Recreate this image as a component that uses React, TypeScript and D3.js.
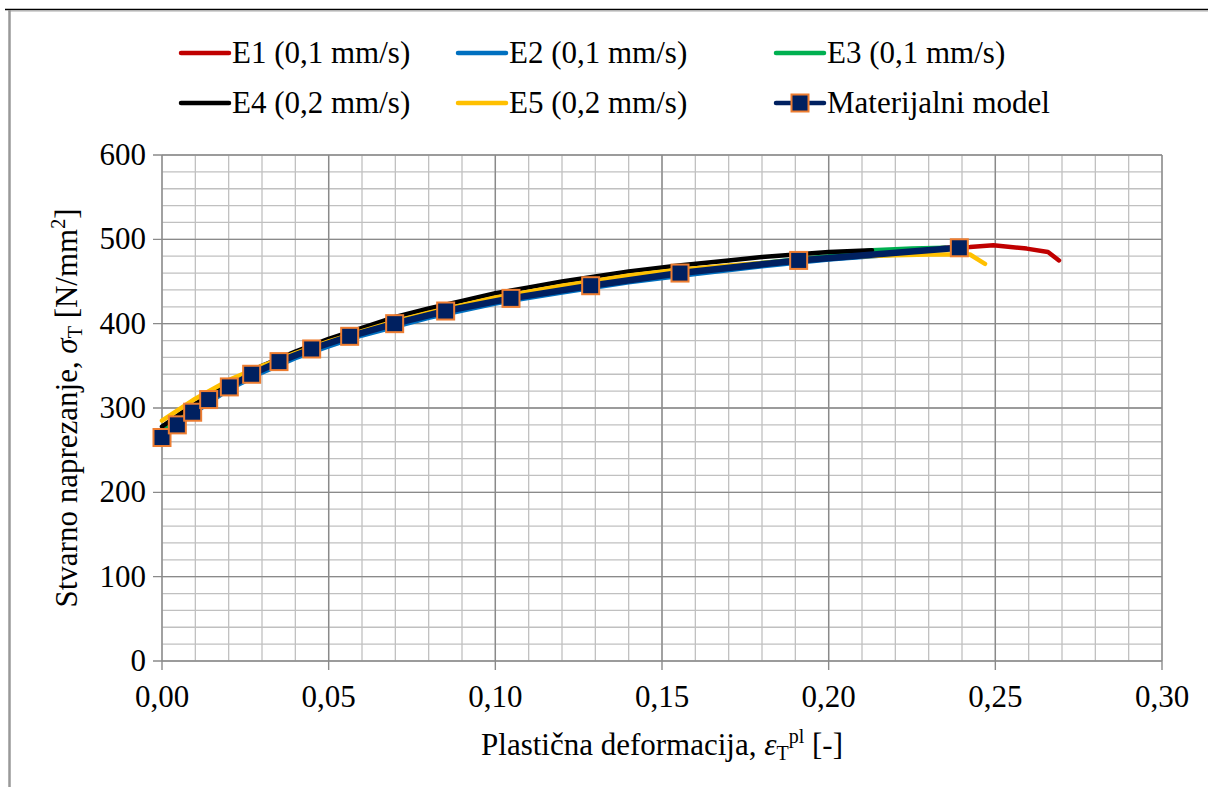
import React from "react";
import * as d3 from "d3";

// ---- data ----
const modelX = [0, 0.0046, 0.0092, 0.014, 0.0202, 0.0269, 0.0351, 0.0449, 0.0563, 0.0698, 0.0851, 0.1047, 0.1286, 0.1554, 0.191, 0.2392];
const modelY = [265, 280, 295, 310, 325, 340, 355, 370, 385, 400, 415, 430, 445, 460, 475, 490];

const e1X = [0, 0.01, 0.02, 0.03, 0.04, 0.05, 0.06, 0.08, 0.10, 0.12, 0.14, 0.16, 0.18, 0.20, 0.22, 0.235, 0.2424, 0.2494, 0.2594, 0.2658, 0.2691];
const e1Y = [268, 298, 324, 344, 361, 375, 388, 408, 425, 439, 450, 461, 470, 478, 485, 490, 491, 493, 489, 485, 475];

const e2X = [0, 0.01, 0.02, 0.03, 0.04, 0.05, 0.06, 0.08, 0.10, 0.12, 0.14, 0.16, 0.18, 0.20, 0.22, 0.228];
const e2Y = [266, 295, 322, 342, 359, 373, 386, 407, 424, 437, 449, 459, 468, 476, 482, 484];

const e3X = [0, 0.01, 0.02, 0.03, 0.04, 0.05, 0.06, 0.08, 0.10, 0.12, 0.14, 0.16, 0.18, 0.20, 0.213, 0.225, 0.235];
const e3Y = [272, 299, 327, 347, 364, 378, 390, 411, 428, 441, 453, 463, 472, 480, 487, 489, 490];

const e4X = [0, 0.005, 0.01, 0.02, 0.03, 0.04, 0.05, 0.06, 0.07, 0.08, 0.09, 0.10, 0.11, 0.12, 0.13, 0.14, 0.155, 0.17, 0.18, 0.19, 0.20, 0.213];
const e4Y = [278, 292, 305, 330, 350, 367, 382, 395, 408, 418, 427, 436, 443, 450, 456, 462, 469, 475, 479, 482, 485, 487];

const e5X = [0, 0.005, 0.01, 0.02, 0.03, 0.04, 0.05, 0.06, 0.07, 0.08, 0.09, 0.10, 0.11, 0.12, 0.13, 0.14, 0.155, 0.17, 0.18, 0.19, 0.20, 0.21, 0.22, 0.23, 0.2364, 0.2424, 0.2469];
const e5Y = [285, 298, 311, 333, 350, 365, 379, 391, 403, 413, 422, 431, 438, 445, 451, 457, 464, 469, 472, 475, 478, 480, 481, 482, 482, 482, 471];

const seriesNames = ["E1 (0,1 mm/s)", "E2 (0,1 mm/s)", "E3 (0,1 mm/s)", "E4 (0,2 mm/s)", "E5 (0,2 mm/s)", "Materijalni model"];
const seriesColors = ["#C00000", "#0070C0", "#00B050", "#000000", "#FFC000", "#002060"];

const xTicks = [0, 0.05, 0.1, 0.15, 0.2, 0.25, 0.3];
const yTicks = [0, 100, 200, 300, 400, 500, 600];

const FONT = "Liberation Serif";

export default function App() {
  const W = 1208, H = 787;
  const x = d3.scaleLinear().domain([0, 0.3]).range([162, 1162]);
  const y = d3.scaleLinear().domain([0, 600]).range([661, 155]);

  const minorX = d3.range(0, 0.3001, 0.01);
  const minorY = d3.range(0, 601, 20);

  const line = d3.line<[number, number]>().x(d => x(d[0])).y(d => y(d[1]));
  const zip = (a: number[], b: number[]) => a.map((v, i) => [v, b[i]] as [number, number]);
  const exps = [zip(e1X, e1Y), zip(e2X, e2Y), zip(e3X, e3Y), zip(e4X, e4Y), zip(e5X, e5Y)];
  const model = zip(modelX, modelY);

  const fmt = (v: number) => d3.format(".2f")(v).replace(".", ",");
  const fs = 31;
  const sub = Math.round(fs * 0.66);

  const legendCols = [181, 458, 776];
  const legendRows = [53, 103];

  return (
    <div style={{ position: "absolute", left: 0, top: 0 }}>
      <svg width={W} height={H} style={{ display: "block", background: "#fff" }}>
        {/* frame */}
        <line x1={5} x2={W} y1={9.5} y2={9.5} stroke="#000" strokeWidth={1.5} />
        <line x1={8} x2={W} y1={11} y2={11} stroke="#aaa" strokeWidth={1} />
        <line x1={9.5} x2={9.5} y1={10} y2={H} stroke="#999" strokeWidth={2.5} />

        {/* minor grid */}
        {minorX.map((v, i) => (
          <line key={"mx" + i} x1={x(v)} x2={x(v)} y1={y(0)} y2={y(600)} stroke="#C0C0C0" strokeWidth={1.3} />
        ))}
        {minorY.map((v, i) => (
          <line key={"my" + i} x1={x(0)} x2={x(0.3)} y1={y(v)} y2={y(v)} stroke="#C0C0C0" strokeWidth={1.3} />
        ))}
        {/* major grid */}
        {xTicks.map((v, i) => (
          <line key={"gx" + i} x1={x(v)} x2={x(v)} y1={y(0) + 9} y2={y(600)} stroke="#8A8A8A" strokeWidth={1.4} />
        ))}
        {yTicks.map((v, i) => (
          <line key={"gy" + i} x1={x(0) - 9} x2={x(0.3)} y1={y(v)} y2={y(v)} stroke="#8A8A8A" strokeWidth={1.4} />
        ))}

        {/* tick labels */}
        {xTicks.map((v, i) => (
          <text key={"tx" + i} x={x(v)} y={y(0) + 46} textAnchor="middle" fontFamily={FONT} fontSize={fs} fill="#000">
            {fmt(v)}
          </text>
        ))}
        {yTicks.map((v, i) => (
          <text key={"ty" + i} x={x(0) - 16} y={y(v) + 10} textAnchor="end" fontFamily={FONT} fontSize={fs} fill="#000">
            {v}
          </text>
        ))}

        {/* axis titles */}
        <text x={662} y={755} textAnchor="middle" fontFamily={FONT} fontSize={fs} fill="#000">
          <tspan>Plastična deformacija, </tspan>
          <tspan fontStyle="italic">ε</tspan>
          <tspan fontSize={sub} dy={5}>T</tspan>
          <tspan fontSize={sub} dy={-17}>pl</tspan>
          <tspan dy={12}> [-]</tspan>
        </text>
        <text transform={`translate(77,408) rotate(-90)`} textAnchor="middle" fontFamily={FONT} fontSize={fs} fill="#000">
          <tspan>Stvarno naprezanje, </tspan>
          <tspan fontStyle="italic">σ</tspan>
          <tspan fontSize={sub} dy={5}>T</tspan>
          <tspan dy={-5}> [N/mm</tspan>
          <tspan fontSize={sub} dy={-12}>2</tspan>
          <tspan dy={12}>]</tspan>
        </text>

        {/* series */}
        {exps.map((d, i) => (
          <path key={"s" + i} d={line(d) || ""} fill="none" stroke={seriesColors[i]} strokeWidth={4.5} strokeLinejoin="round" strokeLinecap="round" />
        ))}
        <path d={line(model) || ""} fill="none" stroke={seriesColors[5]} strokeWidth={6.5} strokeLinejoin="round" strokeLinecap="round" />
        {model.map((d, i) => (
          <rect key={"m" + i} x={x(d[0]) - 8.5} y={y(d[1]) - 8.5} width={17} height={17} fill="#002060" stroke="#ED7D31" strokeWidth={2} />
        ))}

        {/* legend */}
        {seriesNames.map((name, i) => {
          const cx = legendCols[i % 3];
          const cy = legendRows[Math.floor(i / 3)];
          return (
            <g key={"lg" + i}>
              <line x1={cx} x2={cx + 48} y1={cy} y2={cy} stroke={seriesColors[i]} strokeWidth={4.5} strokeLinecap="round" />
              {i === 5 && (
                <rect x={cx + 24 - 8.5} y={cy - 8.5} width={17} height={17} fill="#002060" stroke="#ED7D31" strokeWidth={2} />
              )}
              <text x={cx + 51} y={cy + 10} fontFamily={FONT} fontSize={fs} fill="#000">{name}</text>
            </g>
          );
        })}
      </svg>
    </div>
  );
}
